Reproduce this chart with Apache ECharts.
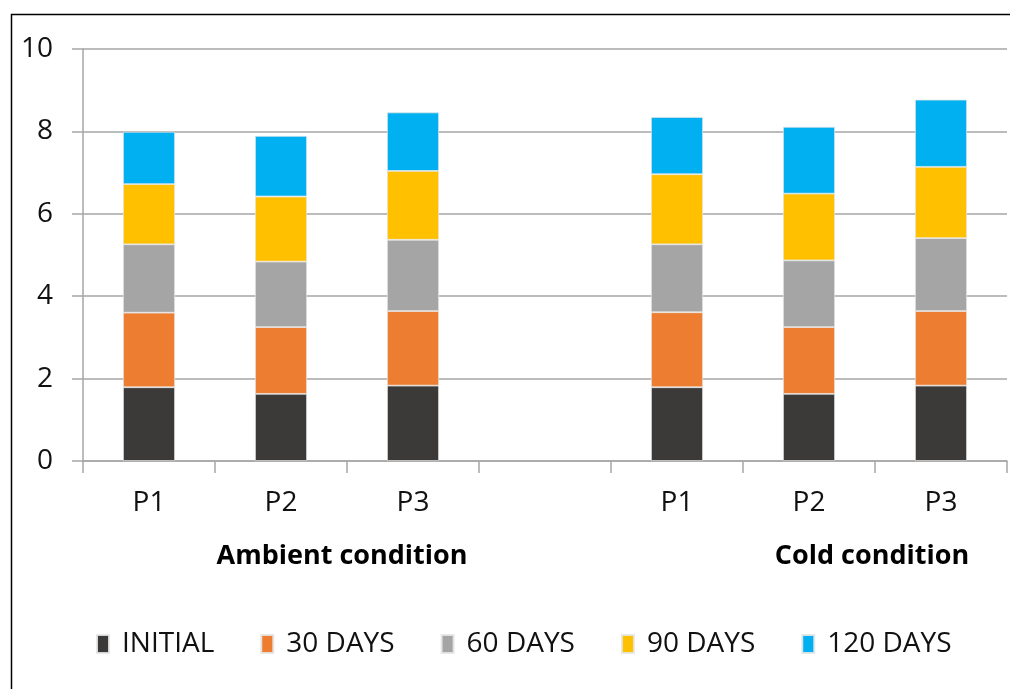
<!DOCTYPE html>
<html>
<head>
<meta charset="utf-8">
<script src="https://cdn.jsdelivr.net/npm/echarts@6/dist/echarts.min.js"></script>
<style>
html,body{margin:0;padding:0;background:#fff;}
#main{width:1010px;height:689px;}
</style>
</head>
<body>
<div id="main"></div>
<script>
const categories = ['Ambient P1','Ambient P2','Ambient P3','gap','Cold P1','Cold P2','Cold P3'];
const tickLabels = ['P1','P2','P3','','P1','P2','P3'];
const groupLabels = ['Ambient condition','Cold condition'];
const seriesNames = ['INITIAL','30 DAYS','60 DAYS','90 DAYS','120 DAYS'];
const initial = [1.79, 1.63, 1.83, null, 1.79, 1.63, 1.83];
const days30  = [1.81, 1.62, 1.81, null, 1.82, 1.62, 1.81];
const days60  = [1.66, 1.59, 1.73, null, 1.65, 1.62, 1.77];
const days90  = [1.46, 1.58, 1.67, null, 1.70, 1.62, 1.73];
const days120 = [1.27, 1.47, 1.42, null, 1.39, 1.62, 1.63];
const yTicks = [0, 2, 4, 6, 8, 10];

const colors = ['#3b3a38','#ed7d31','#a5a5a5','#ffc000','#00b0f0'];
const values = [initial, days30, days60, days90, days120];
const font = '"Open Sans", sans-serif';

const chart = echarts.init(document.getElementById('main'), null, {renderer:'canvas'});
chart.setOption({
  animation: false,
  backgroundColor: '#ffffff',
  color: colors,
  grid: {left: 83, right: 3, top: 49, bottom: 228, containLabel: false},
  legend: {
    data: seriesNames,
    left: 96, top: 630,
    padding: 0,
    itemWidth: 12, itemHeight: 18,
    itemGap: 46,
    icon: 'rect',
    textStyle: {fontFamily: font, fontSize: 28, color: '#111', padding: [0,0,0,8]}
  },
  xAxis: {
    type: 'category',
    data: categories,
    axisLine: {lineStyle: {color: '#a6a6a6', width: 1.5}},
    axisTick: {show: true, length: 12, lineStyle: {color: '#a6a6a6', width: 1.5}},
    axisLabel: {
      interval: 0, margin: 28,
      fontFamily: font, fontSize: 28, color: '#111',
      formatter: (v, i) => tickLabels[i]
    }
  },
  yAxis: {
    type: 'value', min: yTicks[0], max: yTicks[yTicks.length-1], interval: 2,
    axisLine: {show: true, lineStyle: {color: '#a6a6a6', width: 1.5}},
    axisTick: {show: true, inside: false, length: 11, lineStyle: {color: '#a6a6a6', width: 1.5}},
    splitLine: {show: true, lineStyle: {color: '#a6a6a6', width: 1.5}},
    axisLabel: {margin: 30, fontFamily: font, fontSize: 28, color: '#111'}
  },
  graphic: [
    {type: 'rect', left: 9, top: 12, shape: {width: 1200, height: 900},
     style: {fill: 'none', stroke: '#000', lineWidth: 1.5}, silent: true},
    {type: 'text', x: 342, y: 556, style: {text: groupLabels[0], font: 'bold 27px "Open Sans", sans-serif', fill: '#000', textAlign: 'center', textVerticalAlign: 'middle'}},
    {type: 'text', x: 872, y: 556, style: {text: groupLabels[1], font: 'bold 27px "Open Sans", sans-serif', fill: '#000', textAlign: 'center', textVerticalAlign: 'middle'}}
  ],
  series: seriesNames.map((name, k) => ({
    name: name,
    type: 'bar',
    stack: 'total',
    barWidth: '39.4%',
    data: values[k],
    itemStyle: {color: colors[k], borderColor: 'rgba(230,230,230,0.9)', borderWidth: 0.8}
  }))
});
</script>
</body>
</html>
